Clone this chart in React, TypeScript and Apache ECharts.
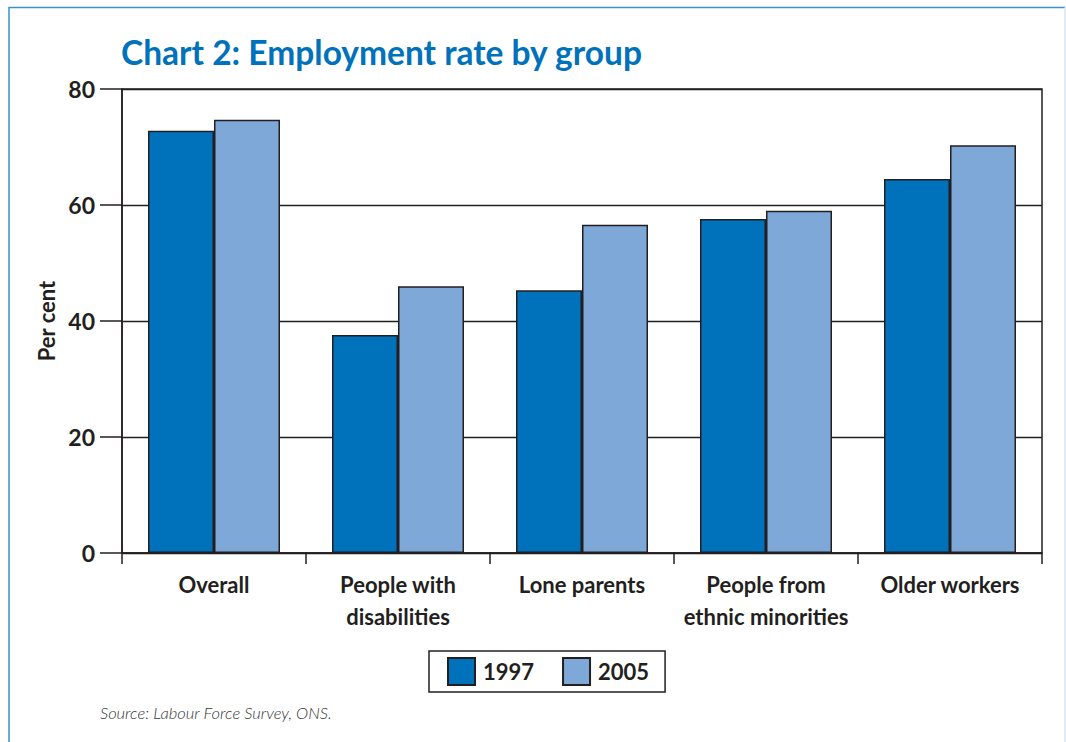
import React, { useEffect, useRef } from "react";
import * as echarts from "echarts";

const categories = [
  "Overall",
  "People with\ndisabilities",
  "Lone parents",
  "People from\nethnic minorities",
  "Older workers",
];
const seriesNames = ["1997", "2005"];
const values1997 = [72.8, 37.6, 45.3, 57.6, 64.5];
const values2005 = [74.7, 46.0, 56.6, 59.0, 70.3];
const yTicks = [0, 20, 40, 60, 80];

const titleText = "Chart 2: Employment rate by group";
const yAxisName = "Per cent";
const sourceText = "Source: Labour Force Survey, ONS.";

const FONT = "Lato, 'Open Sans', sans-serif";
const INK = "#231F20";
const C1997 = "#0071BB";
const C2005 = "#7EA8D8";

export default function App() {
  const ref = useRef<HTMLDivElement>(null);
  useEffect(() => {
    if (!ref.current) return;
    const chart = echarts.init(ref.current, null, { renderer: "svg" });
    chart.setOption({
      animation: false,
      backgroundColor: "#ffffff",
      title: {
        text: titleText,
        left: 121,
        top: 35,
        padding: 0,
        textStyle: {
          color: "#0071BB",
          fontFamily: FONT,
          fontWeight: "bold",
          fontSize: 33.5,
        },
      },
      legend: {
        data: seriesNames,
        left: 429,
        top: 651,
        orient: "horizontal",
        padding: [6, 16, 6, 18],
        itemGap: 28,
        itemWidth: 27,
        itemHeight: 27,
        borderColor: INK,
        borderWidth: 1.5,
        icon: "rect",
        textStyle: {
          color: INK,
          fontFamily: FONT,
          fontWeight: "bold",
          fontSize: 22,
          padding: [0, 0, 0, 3],
        },
      },
      grid: {
        left: 122,
        right: 24,
        top: 89,
        bottom: 189,
        show: true,
        borderColor: INK,
        borderWidth: 1.5,
        backgroundColor: "transparent",
      },
      xAxis: {
        type: "category",
        data: categories,
        boundaryGap: true,
        axisLine: { show: true, lineStyle: { color: INK, width: 1.5 } },
        axisTick: {
          show: true,
          length: 11,
          interval: 0,
          lineStyle: { color: INK, width: 1.5 },
        },
        axisLabel: {
          interval: 0,
          margin: 15,
          color: INK,
          fontFamily: FONT,
          fontWeight: "bold",
          fontSize: 22,
          lineHeight: 32,
        },
      },
      yAxis: {
        type: "value",
        min: yTicks[0],
        max: yTicks[yTicks.length - 1],
        interval: 20,
        name: yAxisName,
        nameLocation: "middle",
        nameGap: 64,
        nameRotate: 90,
        nameTextStyle: {
          color: INK,
          fontFamily: FONT,
          fontWeight: "bold",
          fontSize: 22,
        },
        axisLine: { show: true, lineStyle: { color: INK, width: 1.5 } },
        axisTick: {
          show: true,
          inside: false,
          length: 22,
          lineStyle: { color: INK, width: 1.5 },
        },
        splitLine: { show: true, lineStyle: { color: INK, width: 1.3 } },
        axisLabel: {
          margin: 27,
          color: INK,
          fontFamily: FONT,
          fontWeight: "bold",
          fontSize: 23,
        },
      },
      series: [
        {
          name: seriesNames[0],
          type: "bar",
          data: values1997,
          barWidth: 66,
          barGap: "0%",
          itemStyle: { color: C1997, borderColor: INK, borderWidth: 1.5 },
        },
        {
          name: seriesNames[1],
          type: "bar",
          data: values2005,
          barWidth: 66,
          barGap: "0%",
          itemStyle: { color: C2005, borderColor: INK, borderWidth: 1.5 },
        },
      ],
      graphic: [
        {
          type: "polyline",
          silent: true,
          shape: {
            points: [
              [9, 742],
              [9, 7.5],
              [1065, 7.5],
            ],
          },
          style: { stroke: "#3D8FCC", lineWidth: 1.5, fill: null },
        },
        {
          type: "line",
          silent: true,
          shape: { x1: 1065, y1: 7.5, x2: 1065, y2: 742 },
          style: { stroke: "#D6E4F0", lineWidth: 1.5 },
        },
        {
          type: "text",
          left: 100,
          top: 704,
          silent: true,
          style: {
            text: sourceText,
            fill: "#333333",
            font: "italic 300 16.5px " + FONT,
          },
        },
      ],
    });
    return () => chart.dispose();
  }, []);
  return (
    <div
      ref={ref}
      style={{ position: "fixed", left: 0, top: 0, width: 1066, height: 742 }}
    />
  );
}
